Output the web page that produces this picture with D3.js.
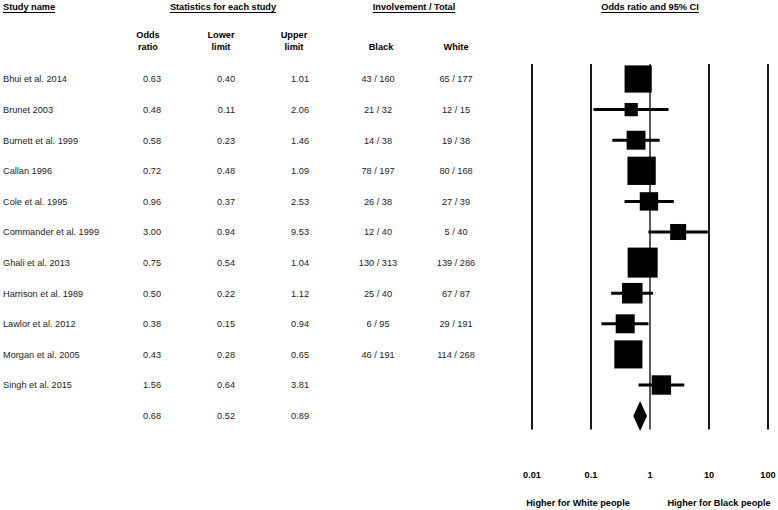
<!DOCTYPE html>
<html>
<head>
<meta charset="utf-8">
<script src="https://cdn.jsdelivr.net/npm/d3@7"></script>
<style>
  body { margin: 0; background: #fff; }
  text { font-family: "Liberation Sans", Arial, sans-serif; font-size: 9.2px; fill: #222; }
  .bold { font-weight: bold; fill: #000; }
</style>
</head>
<body>
<div id="chart"></div>
<script>
// Studies and their statistics
const studies = ["Bhui et al. 2014", "Brunet 2003", "Burnett et al. 1999", "Callan 1996",
  "Cole et al. 1995", "Commander et al. 1999", "Ghali et al. 2013", "Harrison et al. 1989",
  "Lawlor et al. 2012", "Morgan et al. 2005", "Singh et al. 2015"];
const oddsRatio = [0.63, 0.48, 0.58, 0.72, 0.96, 3.00, 0.75, 0.50, 0.38, 0.43, 1.56];
const lowerLimit = [0.40, 0.11, 0.23, 0.48, 0.37, 0.94, 0.54, 0.22, 0.15, 0.28, 0.64];
const upperLimit = [1.01, 2.06, 1.46, 1.09, 2.53, 9.53, 1.04, 1.12, 0.94, 0.65, 3.81];
const black = ["43 / 160", "21 / 32", "14 / 38", "78 / 197", "26 / 38", "12 / 40", "130 / 313", "25 / 40", "6 / 95", "46 / 191", ""];
const white = ["65 / 177", "12 / 15", "19 / 38", "80 / 168", "27 / 39", "5 / 40", "139 / 286", "67 / 87", "29 / 191", "114 / 268", ""];

// Pooled estimate
const summary = { or: 0.68, lower: 0.52, upper: 0.89 };

// Axis ticks and labels
const tickValues = [0.01, 0.1, 1, 10, 100];
const tickLabels = ["0.01", "0.1", "1", "10", "100"];
const favourLabels = ["Higher for White people", "Higher for Black people"];

const width = 778, height = 510;

const svg = d3.select("#chart").append("svg")
  .attr("width", width)
  .attr("height", height);

// Scales
const x = d3.scaleLog().domain([0.01, 100]).range([532, 768]);
const y = d3.scaleLinear().domain([0, studies.length]).range([79, 79 + 30.6 * studies.length]);

// Random-effects weights (tau^2 ~ 0.1) drive the square size
const tau2 = 0.1;
const weights = lowerLimit.map((lo, i) => {
  const se = (Math.log(upperLimit[i]) - Math.log(lo)) / 3.92;
  return 1 / (se * se + tau2);
});
const side = d3.scaleSqrt().domain([0, d3.max(weights)]).range([0, 30]);

// Header titles with underline
const titles = [
  { t: "Study name", x: 3, anchor: "start" },
  { t: "Statistics for each study", x: 223, anchor: "middle" },
  { t: "Involvement / Total", x: 414, anchor: "middle" },
  { t: "Odds ratio and 95% CI", x: 650, anchor: "middle" }
];
titles.forEach(d => {
  const tx = svg.append("text").attr("class", "bold")
    .attr("x", d.x).attr("y", 10)
    .attr("text-anchor", d.anchor)
    .text(d.t);
  const w = tx.node().getComputedTextLength();
  const x0 = d.anchor === "middle" ? d.x - w / 2 : d.x;
  svg.append("line")
    .attr("x1", x0).attr("x2", x0 + w)
    .attr("y1", 12.5).attr("y2", 12.5)
    .attr("stroke", "#000").attr("stroke-width", 1);
});

// Column headers
const colHeads = [
  { lines: ["Odds", "ratio"], x: 148 },
  { lines: ["Lower", "limit"], x: 221 },
  { lines: ["Upper", "limit"], x: 294 },
  { lines: ["Black"], x: 381 },
  { lines: ["White"], x: 456 }
];
colHeads.forEach(c => {
  c.lines.forEach((l, j) => {
    svg.append("text").attr("class", "bold")
      .attr("x", c.x)
      .attr("y", c.lines.length === 2 ? 38 + j * 12 : 50)
      .attr("text-anchor", "middle")
      .text(l);
  });
});

// Table rows
const rows = svg.append("g");
const fmt = d3.format(".2f");
studies.forEach((s, i) => {
  const yy = y(i) + 3.3;
  rows.append("text").attr("x", 3).attr("y", yy).text(s);
  rows.append("text").attr("x", 161).attr("y", yy).attr("text-anchor", "end").text(fmt(oddsRatio[i]));
  rows.append("text").attr("x", 235).attr("y", yy).attr("text-anchor", "end").text(fmt(lowerLimit[i]));
  rows.append("text").attr("x", 309).attr("y", yy).attr("text-anchor", "end").text(fmt(upperLimit[i]));
  rows.append("text").attr("x", 378).attr("y", yy).attr("text-anchor", "middle").text(black[i]);
  rows.append("text").attr("x", 456).attr("y", yy).attr("text-anchor", "middle").text(white[i]);
});
const ys = y(studies.length) + 3.3;
rows.append("text").attr("x", 161).attr("y", ys).attr("text-anchor", "end").text(fmt(summary.or));
rows.append("text").attr("x", 235).attr("y", ys).attr("text-anchor", "end").text(fmt(summary.lower));
rows.append("text").attr("x", 309).attr("y", ys).attr("text-anchor", "end").text(fmt(summary.upper));

// Vertical reference lines
const lineTop = y(0) - 15, lineBottom = y(studies.length) + 14;
svg.append("g").selectAll("line")
  .data(tickValues)
  .join("line")
  .attr("x1", d => x(d)).attr("x2", d => x(d))
  .attr("y1", lineTop).attr("y2", lineBottom)
  .attr("stroke", "#000")
  .attr("stroke-width", d => d === 1 ? 1.3 : 1.8);

// Confidence intervals
const plot = svg.append("g");
plot.selectAll("line.ci")
  .data(studies)
  .join("line")
  .attr("class", "ci")
  .attr("x1", (d, i) => x(lowerLimit[i]))
  .attr("x2", (d, i) => x(upperLimit[i]))
  .attr("y1", (d, i) => y(i)).attr("y2", (d, i) => y(i))
  .attr("stroke", "#000").attr("stroke-width", 3);

// Squares
plot.selectAll("rect")
  .data(studies)
  .join("rect")
  .attr("x", (d, i) => x(oddsRatio[i]) - side(weights[i]) / 2)
  .attr("y", (d, i) => y(i) - side(weights[i]) / 2)
  .attr("width", (d, i) => side(weights[i]))
  .attr("height", (d, i) => side(weights[i]))
  .attr("fill", "#000");

// Summary diamond
const yd = y(studies.length) + 0.5;
plot.append("path")
  .attr("d", `M${x(summary.lower)},${yd} L${x(summary.or)},${yd - 15} L${x(summary.upper)},${yd} L${x(summary.or)},${yd + 15} Z`)
  .attr("fill", "#000");

// Axis tick labels
svg.append("g").selectAll("text")
  .data(tickValues)
  .join("text")
  .attr("class", "bold")
  .attr("x", d => x(d))
  .attr("y", 478)
  .attr("text-anchor", "middle")
  .text((d, i) => tickLabels[i]);

// Direction labels
svg.append("text").attr("class", "bold")
  .attr("x", 578).attr("y", 506).attr("text-anchor", "middle").text(favourLabels[0]);
svg.append("text").attr("class", "bold")
  .attr("x", 719).attr("y", 506).attr("text-anchor", "middle").text(favourLabels[1]);
</script>
</body>
</html>
